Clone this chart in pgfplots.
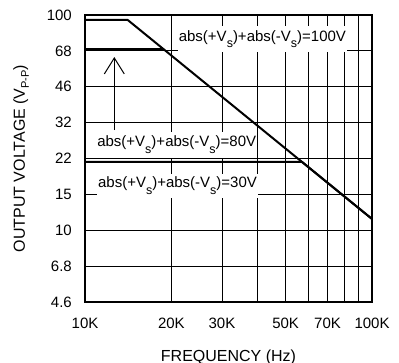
\documentclass[border=0pt]{standalone}
\usepackage{fontspec}
\setmainfont{Liberation Sans}
\usepackage{pgfplots}
\pgfplotsset{compat=1.18}
\usetikzlibrary{arrows.meta}
\newcommand{\lfont}{\fontsize{15}{17}\selectfont}
\newcommand{\tfont}{\fontsize{15}{17}\selectfont}
\newcommand{\afont}{\fontsize{16}{18}\selectfont}
\newcommand{\sub}[1]{\raisebox{-6.5pt}{\fontsize{12.5}{13}\selectfont #1}}
\begin{document}
\begin{tikzpicture}
\useasboundingbox (-85pt,-61pt) rectangle (314pt,302pt);
\begin{axis}[
  at={(0pt,0pt)}, anchor=south west,
  scale only axis, width=287pt, height=287pt,
  xmode=log, ymode=log,
  xmin=1e4, xmax=1e5, ymin=4.6416, ymax=100,
  xtick={1e4,2e4,3e4,4e4,5e4,6e4,7e4,8e4,9e4,1e5},
  xticklabels={10K,20K,30K,,50K,,70K,,,100K},
  ytick={4.6416,6.8129,10,14.678,21.544,31.623,46.416,68.129,100},
  yticklabels={4.6,6.8,10,15,22,32,46,68,100},
  xminorticks=false, yminorticks=false,
  grid=major, major grid style={black, line width=0.8pt},
  major tick length=0pt,
  axis line style={line width=2.2pt},
  tick label style={font=\tfont},
  xticklabel style={anchor=base, yshift=-26.5pt, inner sep=0pt},
  yticklabel style={anchor=east, xshift=-13pt, inner sep=0pt},
  every axis x label/.style={at={(axis description cs:0.5,0)}, yshift=-55pt, anchor=center, font=\afont},
  every axis y label/.style={at={(axis description cs:0,0.5)}, xshift=-64pt, rotate=90, anchor=center, font=\afont},
  xlabel={FREQUENCY (Hz)},
  ylabel={OUTPUT VOLTAGE (V\raisebox{-4pt}{\fontsize{11}{12}\selectfont P-P})},
  clip=false,
]
\addplot[black, line width=2pt, line join=round] coordinates {(10000,94.8) (14090,94.8) (100000,11.28)};
\addplot[black, line width=2pt, line join=round] coordinates {(10000,69.5) (18850,69.5)};
\addplot[black, line width=2pt, line join=round] coordinates {(10000,20.76) (57050,20.76) (100000,11.28)};
\node[fill=white, inner xsep=1pt, inner ysep=4pt, anchor=base, font=\lfont] at (axis cs:41500,75.7) {abs(+V\sub{s})+abs(-V\sub{s})=100V};
\node[fill=white, inner xsep=1pt, inner ysep=4pt, anchor=base, font=\lfont] at (axis cs:20870,24.37) {abs(+V\sub{s})+abs(-V\sub{s})=80V};
\node[fill=white, inner xsep=1pt, inner ysep=3pt, anchor=base, font=\lfont] at (axis cs:21000,15.72) {abs(+V\sub{s})+abs(-V\sub{s})=30V};
\draw[line width=1pt, -{Straight Barb[length=16pt,width=20pt]}] (axis cs:12650,29.2) -- (axis cs:12650,63.8);
\end{axis}
\end{tikzpicture}
\end{document}
